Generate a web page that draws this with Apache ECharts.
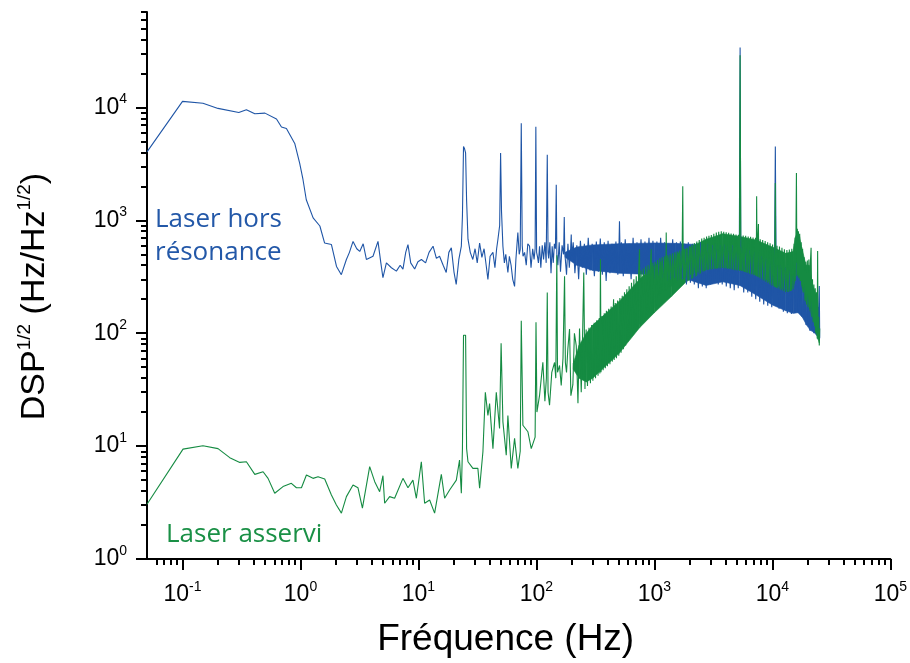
<!DOCTYPE html>
<html><head><meta charset="utf-8">
<script src="https://cdn.jsdelivr.net/npm/echarts@6/dist/echarts.min.js"></script>
<style>html,body{margin:0;padding:0;background:#fff}#c{width:910px;height:663px}</style>
</head><body><div id="c"></div>
<script>
// ---------- tick labels ----------
const xTickValues = [0.1, 1, 10, 100, 1000, 10000, 100000];
const xTickExps = ['-1', '0', '1', '2', '3', '4', '5'];
const yTickValues = [1, 10, 100, 1000, 10000];
const yTickExps = ['0', '1', '2', '3', '4'];
const xMinorTicks = [0.06,0.07,0.08,0.09,0.2,0.3,0.4,0.5,0.6,0.7,0.8,0.9,2,3,4,5,6,7,8,9,20,30,40,50,60,70,80,90,200,300,400,500,600,700,800,900,2000,3000,4000,5000,6000,7000,8000,9000,20000,30000,40000,50000,60000,70000,80000,90000];
const yMinorTicks = [2,3,4,5,6,7,8,9,20,30,40,50,60,70,80,90,200,300,400,500,600,700,800,900,2000,3000,4000,5000,6000,7000,8000,9000,20000,30000,40000,50000,60000,70000];

// ---------- Laser hors résonance (blue) ----------
const blueFreq = [0.05,0.1,0.149,0.2,0.3,0.348,0.41,0.5,0.626,0.69,0.76,0.894,0.985,1.05,1.12,1.28,1.46,1.6,1.83,2.02,2.22,2.45,2.6,2.79,3.0,3.18,3.4,3.62,4.12,4.54,4.8,5.0,5.35,5.9,6.5,7.0,7.39,7.8,8.15,8.6,9.29,9.9,10.6,11.5,12.3,13.3,14.2,15.1,16.2,17.2,18.1,19.0,20.0,20.9,22.0,23.1,23.6,24.1,24.6,25.1,25.6,26.3,27.5,28.9,30.2,31.5,33,34.5,36,37.5,38.8,40.5,42.8,44.5,46,47.2,48.8,49.7,50.6,52,53.5,55,57.3,59,61,63,65.3,67,68.5,69.6,71.5,72.9,74.4,75.8,77,79.4,82,84.5,87.5,90,93,95.5,97.5,98.9,100.4,102,104,106.3,109,112,115,118,121,123.6,125.5,127,130,133,136,139,142,145,147.3,149,152,156,160,165,170,172.2,174,180,185,190,195,197.4,199,205,212,220,228,236,245,255,265,275,285,297,310,322,335,348,362,376,390,405,420,437,454,472,490,500,506,512,525,545,566,588,610,635,660,685,712,740,770,800,832,865,900,935,972,1010,1050,1090,1130,1180,1220,1270,1320,1370,1430,1480,1540,1600,1660,1730,1800,1870,1940,2020,2100,2180,2270,2360,2450,2550,2650,2750,2860,2980,3100,3220,3350,3480,3620,3760,3910,4070,4230,4400,4570,4750,4940,5140,5250,5330,5400,5500,5720,5950,6190,6430,6690,6950,7230,7520,7820,8130,8450,8790,9140,9500,9880,10450,10600,10750,11000,11400,11900,12400,12900,13400,13900,14500,15000,15500,16000,16600,17200,17900,18600,19300,20000,20800,21600,22500,23400,24300,25000,25200];
const blueVal = [4040,11300,10900,9800,9000,9550,8800,8900,7900,6700,6500,4800,3200,2300,1520,1050,890,630,610,390,330,450,520,650,560,530,620,450,480,650,420,310,420,380,355,400,370,520,610,420,370,430,450,420,520,590,460,480,400,345,520,570,350,270,450,590,1090,4500,4300,3950,1500,680,520,450,560,420,630,470,560,400,300,480,520,380,560,680,900,3950,1200,590,420,500,345,480,400,300,260,450,620,780,500,550,7250,600,480,520,400,620,590,380,560,450,560,6750,520,480,420,590,380,600,450,640,420,3800,520,460,640,340,590,420,620,560,2070,500,400,640,350,600,500,1070,520,330,620,380,560,750,480,640,340,600,300,660,380,620,330,700,360,620,320,650,350,690,330,640,290,660,340,620,360,650,330,520,980,500,640,320,680,350,620,300,700,340,640,310,680,350,650,330,700,320,660,300,650,320,700,310,640,290,620,300,680,310,640,290,650,300,620,270,640,280,620,270,630,250,640,260,610,250,620,270,600,280,620,270,600,270,610,260,590,250,600,240,580,250,600,34000,600,560,230,560,230,540,210,520,200,520,190,480,180,460,175,440,170,500,4500,480,420,165,400,155,380,150,360,148,330,150,420,160,330,140,260,118,220,105,190,100,180,90,262,90];
const blueBandFreq = [175,220,300,500,1000,1500,2000,2750,3800,5300,7300,10000,13000,15000,16500,18000,19500,21000,22500,24500,25000];
const blueBandLow = [470,400,360,340,330,315,295,265,285,265,218,178,158,150,152,138,118,106,102,92,92];
const blueBandHigh = [520,580,605,620,630,625,615,600,580,560,520,450,380,330,400,280,220,190,180,170,170];

// ---------- Laser asservi (green) ----------
const greenFreq = [0.05,0.101,0.149,0.2,0.2515,0.306,0.348,0.41,0.482,0.531,0.605,0.711,0.837,0.924,1.019,1.123,1.277,1.409,1.605,1.829,2.016,2.223,2.451,2.788,3.07,3.35,3.86,4.26,4.69,5.0,5.17,5.7,6.28,7.39,8.15,8.98,9.6,10.58,11.28,12.44,13.71,15.63,16.67,18.37,20.95,22.3,23.1,23.6,24.1,25.1,25.6,26.3,28.95,31.9,33.0,35.2,36.9,38.8,40.1,42.8,45.7,48.7,50.2,52,55.5,57.3,61.2,65.3,69.6,72.9,74.4,76.8,84.7,90.4,97.5,99.2,101,106.3,113.4,118,121.5,123.6,125.5,129.2,135,142.5,146,148.9,151,157,162.3,168,173.2,176,180,184.7,190.9,196,203.7,210,217.6,225,232,239.9,246,252,258,264,271,279,287,294,301,309,317,325,333,341,345,349,353,360,368,376,384,392,400,410,420,430,440,446,451,456,466,477,488,499,510,522,534,546,558,571,584,597,611,625,640,655,670,686,702,718,735,748,752,770,788,806,825,844,864,884,905,926,940,948,970,993,1016,1040,1065,1090,1115,1140,1167,1195,1223,1250,1260,1270,1300,1330,1360,1392,1425,1458,1492,1527,1563,1600,1640,1680,1720,1740,1760,1800,1845,1890,1935,1980,2030,2080,2130,2180,2230,2290,2340,2400,2460,2520,2580,2640,2700,2770,2840,2900,2970,3040,3120,3190,3270,3350,3430,3510,3600,3690,3780,3870,3960,4060,4160,4260,4360,4470,4580,4690,4800,4920,5040,5160,5260,5330,5400,5530,5660,5800,5940,6090,6240,6390,6540,6700,6860,7030,7200,7300,7360,7440,7530,7620,7700,7890,8080,8280,8480,8690,8900,9120,9340,9570,9800,10040,10300,10500,10600,10700,10950,11220,11490,11770,12060,12350,12650,12960,13280,13600,13930,14270,14620,14980,15300,15600,15850,16000,16150,16300,16450,16650,16850,17050,17300,17550,17800,18050,18300,18600,18900,19200,19500,19800,20100,20400,20700,21000,21300,21600,21900,22200,22500,22800,23100,23400,23700,24000,24200,24400,24700,25000,25200];
const greenVal = [3.05,9.4,10.07,9.5,7.9,7.17,7.27,5.62,5.93,5.18,3.82,4.38,4.68,4.28,4.28,5.54,5.18,5.36,5.11,3.69,3.01,2.55,3.57,4.52,4.28,2.82,6.57,4.84,3.95,5.47,3.12,3.57,3.45,5.18,4.28,5.0,3.45,7.27,3.12,3.33,2.55,5.62,3.45,4.08,5.0,7.51,3.82,9.5,96,96,9.5,7.27,6.35,6.35,4.23,8.9,30,18.7,23.8,9.5,30,14.3,81.5,16.4,8.3,18.7,6.35,11.7,6.35,9,129,15.3,13.4,9.5,12,125,20,28.1,55.3,25,40,229,30,23,45,55,40,490,45,51.8,34.4,60,320,55,45,72.6,109,28,35,100,77.6,24,110,30,90,344,32,108,34,112,36,118,38,124,40,130,42,136,44,451,45,142,47,150,49,158,51,165,53,172,56,143,200,58,185,60,195,63,205,67,215,72,230,78,245,85,260,92,280,100,300,108,320,115,340,553,120,360,128,375,136,390,145,400,152,410,553,160,420,168,430,175,445,215,460,225,470,235,480,240,778,245,490,255,500,260,510,270,520,280,530,290,540,300,550,2000,305,560,310,570,320,590,330,610,335,630,340,650,345,670,350,690,355,700,360,720,365,730,368,740,370,760,372,780,375,790,375,800,378,790,375,785,372,775,370,765,365,760,362,750,360,745,358,29000,740,355,735,350,730,345,720,340,715,335,705,330,700,325,1630,320,690,925,315,680,310,670,300,655,295,640,285,625,278,610,270,600,2140,265,595,258,585,250,570,245,555,238,545,232,550,236,560,245,620,290,760,2620,320,840,330,800,310,760,290,640,270,560,230,470,195,430,180,440,170,450,165,420,572,140,300,125,270,115,250,100,230,90,534,88,140,78,110];
const greenBandFreq = [205,230,265,300,500,750,1000,1400,1860,2750,3800,5300,7300,10000,13000,15000,15600,16300,17000,17700,19300,20500,22000,23500,25000];
const greenBandLow = [48,40,37,40,66,112,152,212,285,365,385,365,322,265,232,242,300,332,302,262,190,165,135,102,82];
const greenBandHigh = [54,78,100,118,190,300,400,480,555,680,760,720,668,580,510,528,700,780,720,580,400,400,262,220,100];

// ---------- colours ----------
const blue = '#1f55a6', green = '#158b42';
const pairs = (f, v) => f.map((x, i) => [x, v[i]]);
// dense noise band: a polygon strip between the low and high envelopes, placed through the axes
function band(f, lo, hi, color) {
  return {
    type: 'custom', silent: true, clip: true,
    data: f.map((x, i) => [x, lo[i], hi[i]]),
    encode: {x: 0, y: [1, 2]},
    renderItem: function (params, api) {
      const i = params.dataIndex;
      if (i >= f.length - 1) return null;
      const a = api.coord([f[i], lo[i]]), b = api.coord([f[i + 1], lo[i + 1]]);
      const c = api.coord([f[i + 1], hi[i + 1]]), d = api.coord([f[i], hi[i]]);
      return {type: 'polygon', shape: {points: [a, b, c, d]}, style: {fill: color, stroke: color, lineWidth: 0.6}};
    }
  };
}
function trace(f, v, color) {
  return {type: 'line', data: pairs(f, v), symbol: 'none', showSymbol: false, silent: true,
          sampling: null, lineStyle: {color: color, width: 1.1}};
}
const FONT = "'Liberation Sans', Arial, sans-serif";
const labRich = {
  b: {fontSize: 23, fontFamily: FONT, color: '#000', lineHeight: 30},
  s: {fontSize: 14, fontFamily: FONT, color: '#000', verticalAlign: 'top', lineHeight: 16}
};
function fmt(vals, exps) {
  return v => { const i = vals.findIndex(t => Math.abs(t - v) / t < 1e-6); return i < 0 ? '' : '{b|10}{s|' + exps[i] + '}'; };
}
const chart = echarts.init(document.getElementById('c'), null, {renderer: 'canvas'});
chart.setOption({
  animation: false,
  backgroundColor: '#fff',
  grid: {left: 147, right: 19, top: 12, bottom: 102},
  xAxis: [
    {type: 'log', logBase: 10, min: 0.05, max: 100000, position: 'bottom',
     axisLine: {show: true, onZero: false, lineStyle: {color: '#000', width: 2}},
     axisTick: {show: true, length: 11, lineStyle: {color: '#000', width: 2}, customValues: xTickValues},
     axisLabel: {show: true, customValues: xTickValues, margin: 21, formatter: fmt(xTickValues, xTickExps), rich: labRich},
     splitLine: {show: false},
     name: 'Fréquence (Hz)', nameLocation: 'middle', nameGap: 62,
     nameTextStyle: {fontSize: 37, fontFamily: FONT, color: '#000', padding: [0, 26, 0, 0]}},
    {type: 'log', logBase: 10, min: 0.05, max: 100000, position: 'bottom',
     axisLine: {show: false, onZero: false},
     axisTick: {show: true, length: 6, lineStyle: {color: '#000', width: 2}, customValues: xMinorTicks},
     axisLabel: {show: false}, splitLine: {show: false}}
  ],
  yAxis: [
    {type: 'log', logBase: 10, min: 1, max: 70000, position: 'left',
     axisLine: {show: true, onZero: false, lineStyle: {color: '#000', width: 2}},
     axisTick: {show: true, length: 11, lineStyle: {color: '#000', width: 2}, customValues: yTickValues},
     axisLabel: {show: true, customValues: yTickValues, margin: 20, formatter: fmt(yTickValues, yTickExps), rich: labRich},
     splitLine: {show: false},
     name: '{t|DSP}{u|1/2}{t| (Hz/Hz}{u|1/2}{t|)}', nameLocation: 'middle', nameGap: 92,
     nameTextStyle: {padding: [0, 22, 0, 0], rich: {
       t: {fontSize: 34, fontFamily: FONT, color: '#000', lineHeight: 40},
       u: {fontSize: 19, fontFamily: FONT, color: '#000', verticalAlign: 'top', lineHeight: 22}}}},
    {type: 'log', logBase: 10, min: 1, max: 70000, position: 'left',
     axisLine: {show: false, onZero: false},
     axisTick: {show: true, length: 6, lineStyle: {color: '#000', width: 2}, customValues: yMinorTicks},
     axisLabel: {show: false}, splitLine: {show: false}}
  ],
  series: [
    band(blueBandFreq, blueBandLow, blueBandHigh, blue),
    trace(blueFreq, blueVal, blue),
    band(greenBandFreq, greenBandLow, greenBandHigh, green),
    trace(greenFreq, greenVal, green)
  ],
  graphic: [
    {type: 'text', left: 155, top: 207, style: {text: 'Laser hors', font: "26px 'Open Sans', sans-serif", fill: '#2358a8'}},
    {type: 'text', left: 155, top: 240, style: {text: 'résonance', font: "26px 'Open Sans', sans-serif", fill: '#2358a8'}},
    {type: 'text', left: 166, top: 522, style: {text: 'Laser asservi', font: "26px 'Open Sans', sans-serif", fill: '#1a9046'}}
  ]
});
</script>
</body></html>
